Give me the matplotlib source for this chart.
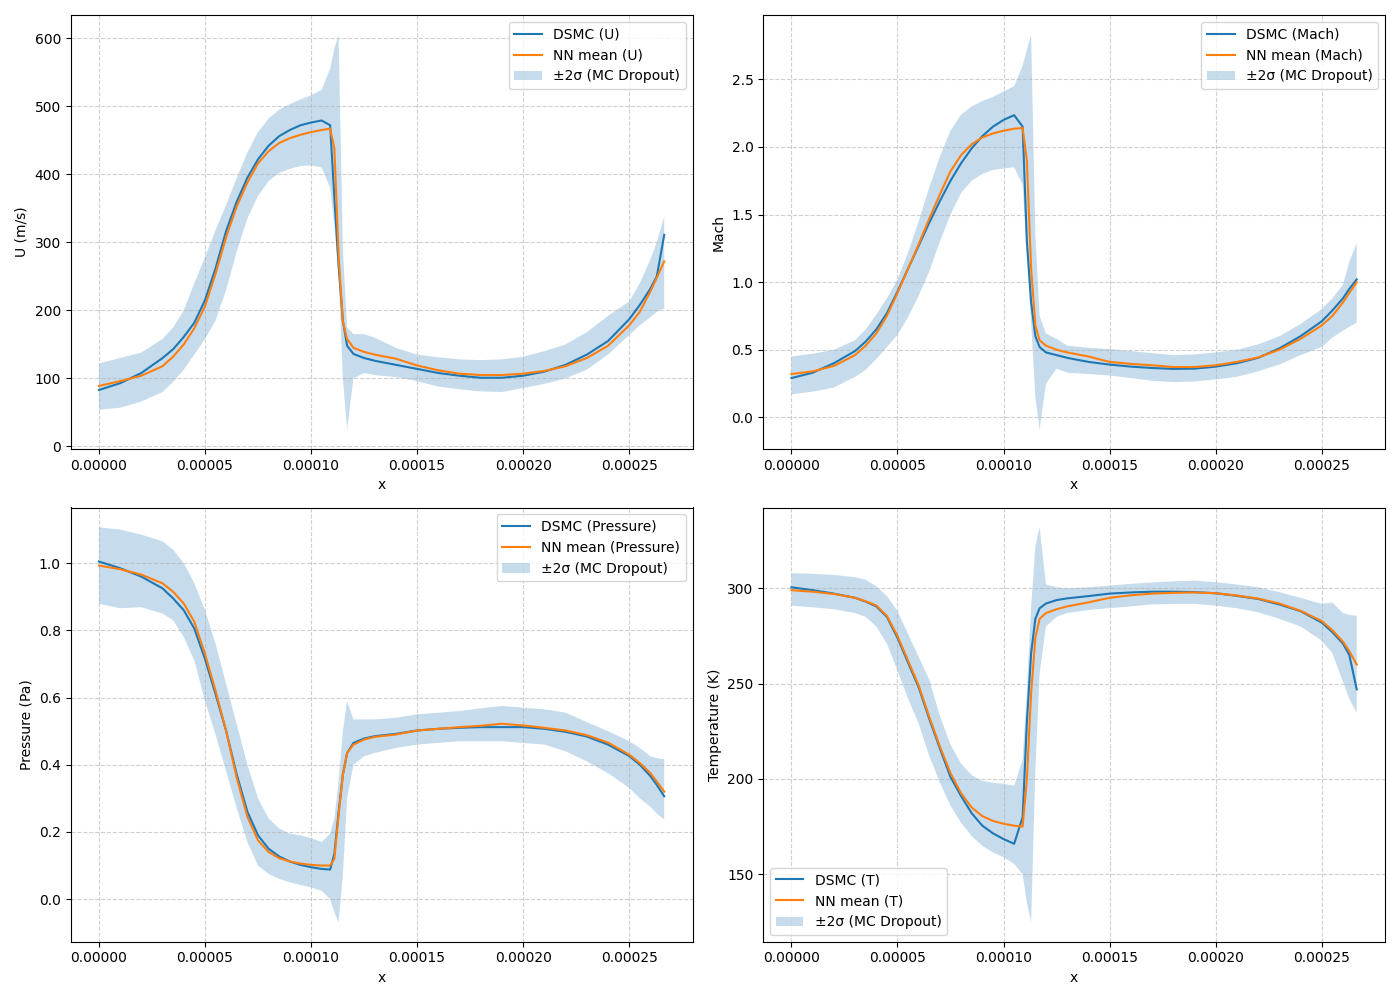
import numpy as np
import matplotlib
matplotlib.use("Agg")
import matplotlib.pyplot as plt
from matplotlib.ticker import MultipleLocator

# positions along the channel, in units of 1e-5 m
x_knots = [0, 1, 2, 3, 3.5, 4, 4.5, 5, 5.5, 6, 6.5, 7, 7.5, 8, 8.5, 9, 9.5, 10, 10.5,
           10.9, 11.1, 11.3, 11.5, 11.7, 12, 12.5, 13, 14, 15, 16, 17, 18, 19, 20,
           21, 22, 23, 24, 25, 25.5, 26, 26.3, 26.65]

# velocity U (m/s)
u_dsmc = [83, 93, 108, 130, 143, 161, 182, 215, 262, 317, 360, 395, 422, 442, 456, 465, 472, 476, 479,
          472, 365, 265, 185, 148, 136, 130, 126, 120, 114, 108, 104, 101, 101, 104,
          110, 120, 135, 155, 187, 208, 232, 250, 311]
u_nn = [89, 96, 104, 118, 132, 150, 174, 206, 254, 308, 353, 388, 416, 434, 446, 453, 458, 462, 465,
        467, 438, 280, 183, 158, 145, 139, 135, 129, 119, 112, 107, 105, 105, 107,
        111, 118, 130, 148, 178, 198, 228, 248, 272]
u_hi = [122, 130, 138, 158, 175, 200, 240, 278, 318, 355, 395, 432, 462, 482, 495, 503, 510, 516, 524,
        555, 585, 605, 290, 175, 165, 165, 160, 145, 135, 131, 128, 127, 128, 132,
        140, 150, 168, 192, 213, 240, 275, 300, 338]
u_lo = [54, 57, 66, 80, 95, 113, 135, 158, 185, 230, 287, 335, 368, 390, 402, 408, 412, 413, 410,
        380, 325, 250, 100, 25, 100, 108, 105, 102, 96, 88, 84, 81, 80, 86,
        92, 100, 113, 135, 164, 178, 190, 198, 203]

# Mach number
m_dsmc = [0.29, 0.33, 0.40, 0.49, 0.56, 0.65, 0.77, 0.93, 1.1, 1.27, 1.44, 1.6, 1.75, 1.88, 1.99, 2.08, 2.15, 2.2, 2.235,
          2.15, 1.3, 0.85, 0.6, 0.52, 0.48, 0.46, 0.44, 0.41, 0.39, 0.375, 0.365, 0.358, 0.36, 0.375,
          0.40, 0.44, 0.51, 0.60, 0.71, 0.79, 0.88, 0.95, 1.02]
m_nn = [0.32, 0.34, 0.38, 0.46, 0.53, 0.62, 0.75, 0.92, 1.1, 1.28, 1.47, 1.65, 1.82, 1.94, 2.02, 2.07, 2.1, 2.12, 2.135,
        2.14, 1.9, 1.1, 0.68, 0.57, 0.53, 0.5, 0.48, 0.45, 0.41, 0.395, 0.385, 0.372, 0.372, 0.385,
        0.41, 0.443, 0.50, 0.58, 0.68, 0.75, 0.85, 0.92, 1.0]
m_hi = [0.45, 0.47, 0.50, 0.57, 0.65, 0.76, 0.88, 1.02, 1.22, 1.45, 1.7, 1.93, 2.12, 2.24, 2.3, 2.34, 2.37, 2.41, 2.45,
        2.6, 2.72, 2.83, 1.35, 0.75, 0.62, 0.58, 0.53, 0.515, 0.505, 0.49, 0.475, 0.46, 0.465, 0.48,
        0.50, 0.54, 0.60, 0.69, 0.80, 0.88, 0.98, 1.15, 1.29]
m_lo = [0.17, 0.19, 0.22, 0.3, 0.35, 0.43, 0.52, 0.61, 0.74, 0.9, 1.08, 1.3, 1.5, 1.66, 1.75, 1.8, 1.83, 1.84, 1.85,
        1.72, 1.2, 0.7, 0.15, -0.09, 0.25, 0.36, 0.33, 0.32, 0.31, 0.29, 0.27, 0.26, 0.265, 0.28,
        0.30, 0.34, 0.39, 0.46, 0.52, 0.59, 0.64, 0.67, 0.70]

# pressure (Pa)
p_dsmc = [1.005, 0.985, 0.96, 0.925, 0.895, 0.86, 0.805, 0.715, 0.61, 0.5, 0.37, 0.26, 0.19, 0.15, 0.127, 0.112, 0.102, 0.095, 0.09,
          0.088, 0.135, 0.26, 0.37, 0.435, 0.465, 0.478, 0.485, 0.492, 0.502, 0.507, 0.51, 0.512, 0.512, 0.512,
          0.507, 0.498, 0.484, 0.46, 0.426, 0.40, 0.366, 0.34, 0.306]
p_nn = [0.993, 0.982, 0.966, 0.94, 0.915, 0.88, 0.825, 0.73, 0.62, 0.5, 0.36, 0.245, 0.175, 0.14, 0.122, 0.112, 0.106, 0.102, 0.1,
        0.1, 0.12, 0.25, 0.37, 0.435, 0.46, 0.475, 0.483, 0.49, 0.502, 0.507, 0.512, 0.516, 0.522, 0.517,
        0.51, 0.502, 0.488, 0.466, 0.43, 0.405, 0.375, 0.35, 0.32]
p_hi = [1.107, 1.10, 1.085, 1.065, 1.04, 1.0, 0.94, 0.86, 0.76, 0.64, 0.52, 0.4, 0.3, 0.24, 0.21, 0.195, 0.19, 0.182, 0.17,
        0.195, 0.24, 0.35, 0.5, 0.59, 0.535, 0.535, 0.535, 0.54, 0.55, 0.555, 0.56, 0.568, 0.575, 0.57,
        0.565, 0.555, 0.527, 0.50, 0.47, 0.45, 0.425, 0.42, 0.416]
p_lo = [0.879, 0.866, 0.869, 0.85, 0.83, 0.78, 0.71, 0.59, 0.49, 0.38, 0.27, 0.17, 0.1, 0.075, 0.06, 0.05, 0.042, 0.035, 0.025,
        0.0, -0.04, -0.068, 0.07, 0.3, 0.40, 0.425, 0.435, 0.45, 0.46, 0.465, 0.47, 0.47, 0.47, 0.465,
        0.46, 0.44, 0.41, 0.375, 0.331, 0.30, 0.275, 0.255, 0.237]

# temperature (K)
t_dsmc = [300.5, 299, 297.2, 295, 293, 290.5, 285, 274, 261, 248, 231.5, 216, 201, 191, 182, 175.5, 171.5, 168.5, 166,
          180, 230, 266, 284, 289.5, 292, 293.8, 294.7, 295.9, 297.2, 297.8, 298.2, 298.2, 298, 297.4,
          296, 294.4, 291.5, 288, 282, 277, 271, 265, 247]
t_nn = [299, 298.2, 297, 295, 293.2, 291, 285.5, 275, 262, 249, 232.5, 217, 203, 192.5, 185, 180.5, 178, 176.5, 175.5,
        175, 200, 245, 274, 284, 287, 289, 290.5, 292.6, 295, 296.3, 297.2, 297.6, 297.8, 297.4,
        296.2, 294.6, 292, 288.2, 282.8, 278, 272, 267, 260]
t_hi = [307.9, 307.6, 307, 305.8, 304.5, 301, 296, 288, 276, 264, 252, 233, 218, 208, 202, 199, 198, 197.5, 196.5,
        210, 246, 290, 322, 332, 302, 300.5, 300, 300.5, 301.4, 302.3, 303, 303.6, 304, 303.2,
        302, 300.5, 298, 295, 291.8, 292.5, 287, 286, 285.6]
t_lo = [290.9, 290, 289, 287, 285, 280, 271, 257, 242, 229, 212, 198, 186, 177, 170, 165, 161.5, 159, 155.5,
        150, 135, 125, 205, 255, 280, 285, 287, 288.6, 289.6, 290.5, 291.5, 291.8, 291.8, 290.9,
        289.5, 287.4, 284, 280, 272.5, 266, 251, 242, 234.7]

x = np.array(x_knots) * 1e-5

panels = [
    ("U", "U (m/s)", u_dsmc, u_nn, u_lo, u_hi, "upper right"),
    ("Mach", "Mach", m_dsmc, m_nn, m_lo, m_hi, "upper right"),
    ("Pressure", "Pressure (Pa)", p_dsmc, p_nn, p_lo, p_hi, "upper right"),
    ("T", "Temperature (K)", t_dsmc, t_nn, t_lo, t_hi, "lower left"),
]

fig, axes = plt.subplots(2, 2, figsize=(14, 10))
for ax, (name, ylab, ref, mean, lo, hi, loc) in zip(axes.flat, panels):
    ax.plot(x, ref, label=f"DSMC ({name})")
    ax.plot(x, mean, label=f"NN mean ({name})")
    ax.fill_between(x, lo, hi, alpha=0.25, label="±2σ (MC Dropout)")
    ax.set_xlabel("x")
    ax.set_ylabel(ylab)
    ax.legend(loc=loc)
    ax.grid(True, linestyle="--", alpha=0.6)

# temperature axis ticks every 50 K
axes[1, 1].yaxis.set_major_locator(MultipleLocator(50))

plt.tight_layout()
plt.savefig("out.png", dpi=100)
